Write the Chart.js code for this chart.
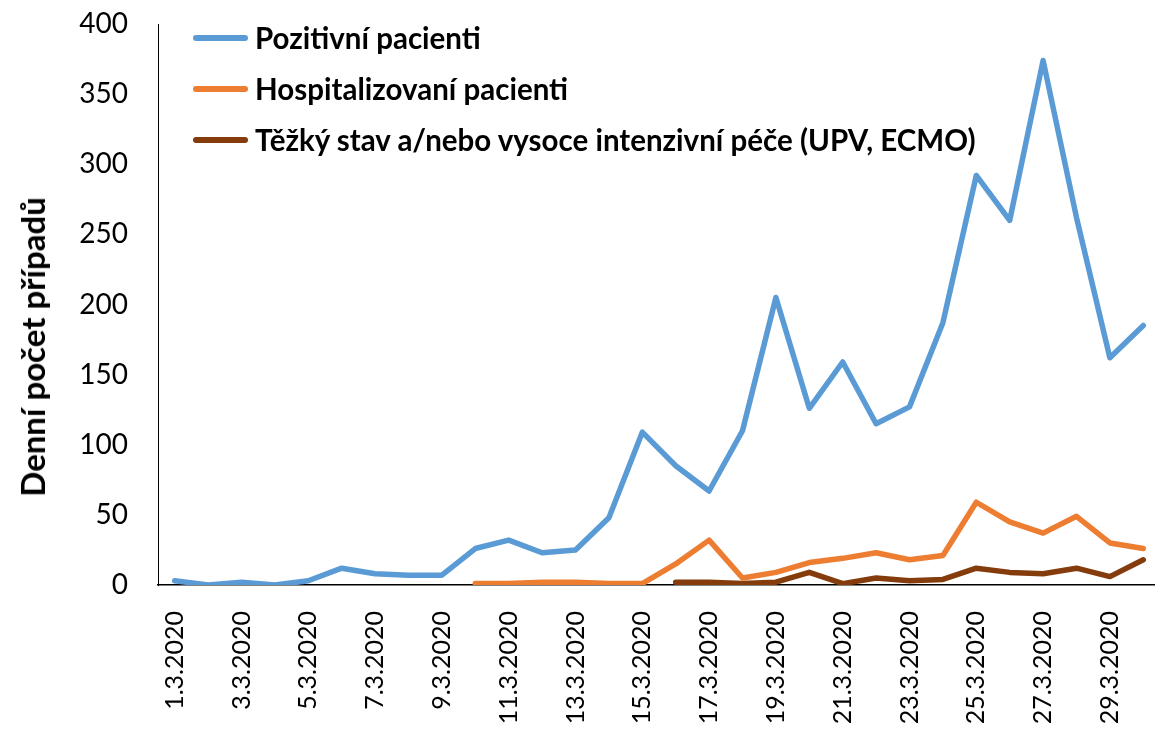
<!DOCTYPE html>
<html>
<head>
<meta charset="utf-8">
<script src="https://cdn.jsdelivr.net/npm/chart.js@4"></script>
<style>
  html, body { margin: 0; padding: 0; background: #fff; overflow: hidden; }
  #wrap { position: absolute; left: 0; top: 0; width: 1160px; height: 750px; }
  #legend { position: absolute; left: 193px; top: 12px; font-family: Lato, sans-serif; font-weight: bold; font-size: 29.5px; color: #000; }
  #legend .row { height: 51px; display: flex; align-items: center; white-space: nowrap; }
  #legend .swatch { display: inline-block; width: 55px; height: 6px; border-radius: 3px; margin-right: 7px; }
  #ytitle { position: absolute; left: 32px; top: 347px; transform: translate(-50%, -50%) rotate(-90deg); font-family: Lato, sans-serif; font-weight: bold; font-size: 33px; white-space: nowrap; color: #000; }
</style>
</head>
<body>
<div id="wrap"><canvas id="covid-chart"></canvas></div>
<div id="legend"></div>
<div id="ytitle">Denní počet případů</div>
<script>
const dates = [
    "1.3.2020", "2.3.2020", "3.3.2020", "4.3.2020", "5.3.2020",
    "6.3.2020", "7.3.2020", "8.3.2020", "9.3.2020", "10.3.2020",
    "11.3.2020", "12.3.2020", "13.3.2020", "14.3.2020", "15.3.2020",
    "16.3.2020", "17.3.2020", "18.3.2020", "19.3.2020", "20.3.2020",
    "21.3.2020", "22.3.2020", "23.3.2020", "24.3.2020", "25.3.2020",
    "26.3.2020", "27.3.2020", "28.3.2020", "29.3.2020", "30.3.2020",
];

const positive = [
    3, 0, 2, 0, 3, 12, 8, 7, 7, 26,
    32, 23, 25, 48, 109, 85, 67, 110, 205, 126,
    159, 115, 127, 187, 292, 260, 374, 262, 162, 185,
];

const hospitalized = [
    null, null, null, null, null, null, null, null, null, 1,
    1, 2, 2, 1, 1, 15, 32, 5, 9, 16,
    19, 23, 18, 21, 59, 45, 37, 49, 30, 26,
];

const severe = [
    null, null, null, null, null, null, null, null, null, null,
    null, null, null, null, null, 2, 2, 1, 2, 9,
    1, 5, 3, 4, 12, 9, 8, 12, 6, 18,
];

const seriesNames = [
    "Pozitivní pacienti",
    "Hospitalizovaní pacienti",
    "Těžký stav a/nebo vysoce intenzivní péče (UPV, ECMO)",
];
const seriesColors = ["#5B9BD5", "#ED7D31", "#843C0C"];
const yTickValues = [0, 50, 100, 150, 200, 250, 300, 350, 400];

function makeDataset(i, values) {
    return {
        label: seriesNames[i],
        data: values,
        borderColor: seriesColors[i],
        backgroundColor: seriesColors[i],
        borderWidth: 5.5,
        borderCapStyle: "round",
        borderJoinStyle: "round",
        pointRadius: 0,
        tension: 0,
    };
}

// no extra room for overhanging tick labels, the plot box is fixed
function noScalePadding(scale) {
    scale.paddingTop = 0;
    scale.paddingBottom = 0;
    scale.paddingLeft = 0;
    scale.paddingRight = 0;
}

const covidData = {
    labels: dates,
    datasets: [
        makeDataset(0, positive),
        makeDataset(1, hospitalized),
        makeDataset(2, severe),
    ],
};

const covidConfig = {
    type: "line",
    data: covidData,
    options: {
        responsive: true,
        maintainAspectRatio: false,
        animation: false,
        layout: { padding: { top: 24, right: 0, left: 0, bottom: 0 } },
        plugins: {
            legend: { display: false },
            tooltip: { enabled: false },
        },
        scales: {
            x: {
                offset: true,
                grid: { display: false, drawTicks: false },
                border: { display: true, color: "#000", width: 1.5 },
                ticks: {
                    autoSkip: false,
                    minRotation: 90,
                    maxRotation: 90,
                    padding: 26,
                    color: "#000",
                    font: { family: "Lato", size: 25 },
                    callback: (value, index) => (index % 2 === 0 ? dates[index] : ""),
                },
                afterFit: (scale) => {
                    scale.height = 165;
                    noScalePadding(scale);
                },
            },
            y: {
                min: 0,
                max: 400,
                grid: { display: false, drawTicks: false },
                border: { display: true, color: "#000", width: 1 },
                ticks: {
                    padding: 30,
                    color: "#000",
                    font: { family: "Lato", size: 28 },
                },
                afterBuildTicks: (scale) => {
                    scale.ticks = yTickValues.map((v) => ({ value: v }));
                },
                afterFit: (scale) => {
                    scale.width = 158;
                    noScalePadding(scale);
                },
            },
        },
    },
};

const covidChart = new Chart(document.getElementById("covid-chart"), covidConfig);

// legend drawn as html rows from the series arrays
const legendBox = document.getElementById("legend");
seriesNames.forEach((name, i) => {
    const row = document.createElement("div");
    row.className = "row";
    const swatch = document.createElement("span");
    swatch.className = "swatch";
    swatch.style.background = seriesColors[i];
    row.appendChild(swatch);
    row.appendChild(document.createTextNode(name));
    legendBox.appendChild(row);
});
</script>
</body>
</html>
